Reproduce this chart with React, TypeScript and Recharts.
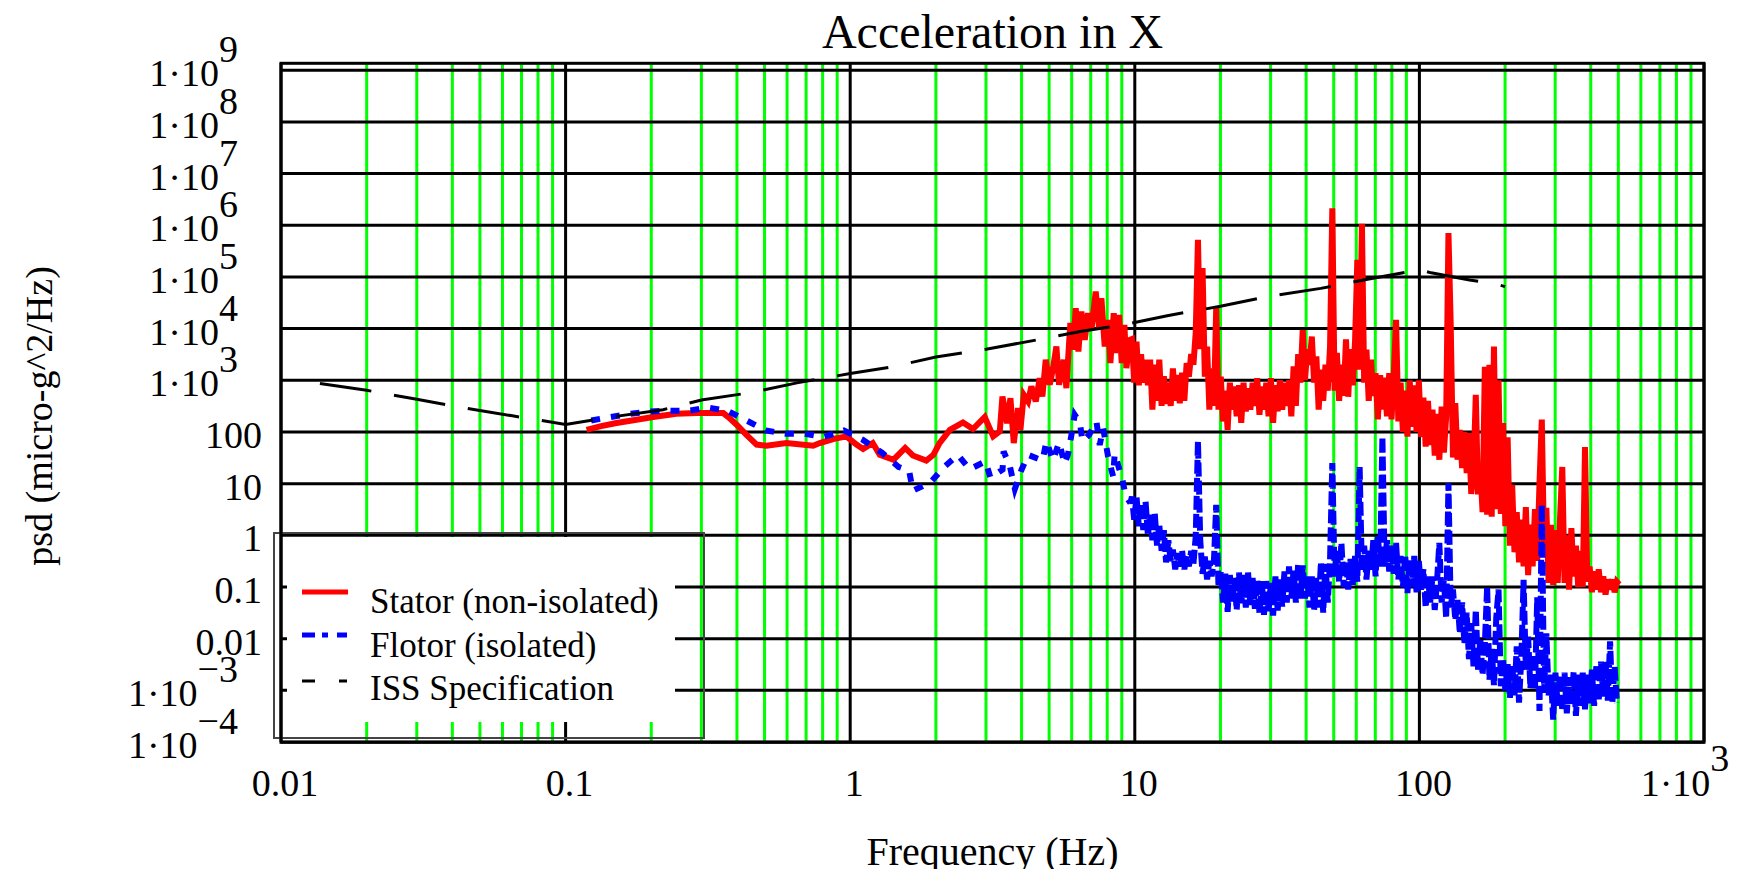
import React from "react";
import { CartesianGrid, Line, LineChart, XAxis, YAxis } from "recharts";

const FONT = '"Liberation Serif", "Times New Roman", serif';

// Stator (non-isolated), below 10 Hz: [frequency Hz, psd micro-g^2/Hz]
const statorLow: number[][] = [
  [0.1185, 110], [0.132, 128], [0.151, 149], [0.1775, 172], [0.203, 194], [0.245, 225], [0.288, 232], [0.358, 232],
  [0.373, 194], [0.399, 138], [0.432, 88], [0.469, 57], [0.508, 54], [0.597, 61], [0.741, 54], [0.782, 61],
  [0.871, 73], [0.97, 82], [1.052, 57], [1.11, 47], [1.2, 61], [1.27, 36], [1.42, 29], [1.56, 49], [1.66, 35],
  [1.85, 28], [1.96, 36], [2.06, 61], [2.24, 110], [2.49, 153], [2.7, 114], [2.97, 194], [3.18, 82],
  [3.354, 102], [3.427, 486], [3.558, 148], [3.656, 452], [3.756, 61], [3.89, 289], [3.964, 110], [4.072, 524],
  [4.217, 389], [4.332, 760], [4.487, 389], [4.634, 1100], [4.735, 486], [4.864, 2490], [5.024, 819], [5.161, 1720],
  [5.302, 4510], [5.418, 819], [5.627, 2490], [5.75, 705], [5.875, 5230], [5.939, 12800], [6.069, 3890], [6.201, 24900],
  [6.336, 3610], [6.492, 21400], [6.67, 6070], [6.852, 19900], [7.039, 9480], [7.29, 52200], [7.489, 10200], [7.631, 38800],
  [7.84, 4510], [8.054, 14800], [8.207, 2150], [8.432, 19900], [8.616, 3350], [8.805, 18500], [8.995, 2150], [9.192, 11800],
  [9.342, 1720], [9.596, 6070],
];

// Flotor (isolated), below 10 Hz
const flotorLow: number[][] = [
  [0.123, 167], [0.144, 194], [0.169, 225], [0.199, 250], [0.231, 257], [0.271, 257], [0.315, 298], [0.37, 257],
  [0.432, 167], [0.505, 107], [0.594, 92], [0.692, 92], [0.807, 80], [0.95, 107], [1.105, 71], [1.29, 40],
  [1.48, 21], [1.61, 18], [1.66, 7.3], [1.92, 10.7], [2.13, 20.6], [2.39, 36], [2.63, 19], [2.99, 27],
  [3.11, 13], [3.43, 18.6], [3.46, 42], [3.64, 21.5], [3.79, 7.9], [4.0, 18.6], [4.22, 36], [4.74, 28],
  [4.89, 66], [5.16, 28], [5.42, 63], [5.67, 24], [5.83, 38], [5.99, 88], [6.15, 215], [6.41, 153],
  [6.55, 66], [6.91, 88], [7.33, 160], [7.53, 56], [7.74, 119], [8.05, 34], [8.39, 13.8], [8.5, 38],
  [8.73, 23], [9.05, 11.9], [9.29, 5.7], [9.65, 4.2],
];

// frequency bins (Hz) of the dense part of both spectra, 10 Hz .. 500 Hz
const hfFreq = [
  9.77, 9.95, 10.14, 10.33, 10.52, 10.71, 10.91, 11.12, 11.32, 11.53, 11.75, 11.97, 12.19, 12.42, 12.65, 12.88,
  13.12, 13.37, 13.61, 13.87, 14.13, 14.39, 14.66, 14.93, 15.21, 15.49, 15.78, 16.07, 16.37, 16.67, 16.98, 17.3,
  17.62, 17.95, 18.28, 18.62, 18.97, 19.32, 19.68, 20.05, 20.42, 20.8, 21.19, 21.58, 21.98, 22.39, 22.8, 23.23,
  23.66, 24.1, 24.55, 25.0, 25.47, 25.94, 26.42, 26.92, 27.42, 27.93, 28.44, 28.97, 29.51, 30.06, 30.62, 31.19,
  31.77, 32.36, 32.96, 33.57, 34.2, 34.83, 35.48, 36.14, 36.81, 37.5, 38.19, 38.9, 39.63, 40.36, 41.11, 41.88,
  42.66, 43.45, 44.26, 45.08, 45.92, 46.77, 47.64, 48.53, 49.43, 50.35, 51.29, 52.24, 53.21, 54.2, 55.21, 56.23,
  57.28, 58.34, 59.43, 60.53, 61.66, 62.81, 63.97, 65.16, 66.37, 67.61, 68.87, 70.15, 71.45, 72.78, 74.13, 75.51,
  76.91, 78.34, 79.8, 81.28, 82.79, 84.33, 85.9, 87.5, 89.13, 90.78, 92.47, 94.19, 95.94, 97.72, 99.54, 101.4,
  103.3, 105.2, 107.2, 109.1, 111.2, 113.2, 115.3, 117.5, 119.7, 121.9, 124.2, 126.5, 128.8, 131.2, 133.7, 136.1,
  138.7, 141.3, 143.9, 146.6, 149.3, 152.1, 154.9, 157.8, 160.7, 163.7, 166.7, 169.8, 173.0, 176.2, 179.5, 182.8,
  186.2, 189.7, 193.2, 196.8, 200.4, 204.2, 208.0, 211.8, 215.8, 219.8, 223.9, 228.0, 232.3, 236.6, 241.0, 245.5,
  250.0, 254.7, 259.4, 264.2, 269.2, 274.2, 279.3, 284.5, 289.8, 295.1, 300.6, 306.2, 311.9, 317.7, 323.6, 329.6,
  335.7, 342.0, 348.3, 354.8, 361.4, 368.1, 375.0, 381.9, 389.0, 396.3, 403.6, 411.1, 418.8, 426.6, 434.5, 442.6,
  450.8, 459.2, 467.7, 476.4, 485.3, 494.3, 503.5,
];

// Stator psd on hfFreq
const statorHf = [
  6300, 900, 5600, 800, 3200, 900, 2500, 800, 2500, 270, 2000, 400, 2500, 320, 1200, 350,
  900, 320, 1700, 400, 1260, 360, 1400, 400, 2150, 1170, 3200, 2000, 8300, 525000, 4000, 148000,
  1170, 4500, 270, 1700, 320, 25000, 270, 1170, 160, 630, 110, 900, 270, 760, 200, 800,
  150, 900, 250, 700, 270, 900, 320, 1100, 215, 760, 270, 900, 200, 1100, 150, 800,
  250, 1000, 270, 900, 320, 1000, 200, 1850, 320, 3200, 900, 9300, 1000, 4000, 2000, 7000,
  900, 2900, 270, 1600, 400, 2000, 630, 4500, 2140000, 630, 3400, 400, 2000, 500, 6200, 480,
  4000, 800, 6000, 214000, 1600, 1070000, 900, 3900, 400, 2500, 500, 1380, 175, 1260, 270, 1120,
  200, 1380, 175, 1260, 14800, 160, 900, 100, 630, 81, 1000, 126, 800, 100, 1000, 80,
  460, 52, 400, 56, 270, 35, 224, 29, 310, 40, 200, 708000, 12600, 32, 363, 29,
  110, 20, 100, 16, 95, 6.3, 16, 525, 6.2, 20, 2.8, 1820, 2.5, 2000, 2.3, 4500,
  3.2, 1000, 2.6, 148, 1.5, 79, 0.63, 9.5, 0.47, 2.8, 0.3, 2, 0.25, 3.5, 0.17, 1.6,
  0.25, 3.2, 0.32, 10, 174, 0.5, 3.4, 0.12, 1.6, 0.11, 1.26, 0.12, 2, 21, 0.12, 1,
  0.089, 1.38, 0.16, 0.63, 0.1, 0.5, 0.1, 51, 0.126, 0.25, 0.079, 0.2, 0.089, 0.22, 0.079, 0.16,
  0.071, 0.14, 0.089, 0.14, 0.079, 0.126, 0.112,
];

// Flotor psd on hfFreq (ends near 494 Hz)
const flotorHf = [
  5.6, 2.0, 5.6, 1.5, 4.2, 1.26, 4.5, 1.0, 2.5, 0.8, 2.7, 0.63, 1.6, 0.5, 1.26, 0.3,
  0.8, 0.32, 0.53, 0.22, 0.45, 0.25, 0.5, 0.22, 0.4, 0.25, 0.5, 0.28, 0.95, 66, 0.8, 0.18,
  0.39, 0.14, 0.32, 0.16, 0.32, 3.9, 0.1, 0.2, 0.05, 0.18, 0.033, 0.17, 0.05, 0.15, 0.036, 0.19,
  0.045, 0.17, 0.04, 0.19, 0.045, 0.15, 0.038, 0.14, 0.031, 0.13, 0.029, 0.13, 0.034, 0.12, 0.028, 0.16,
  0.035, 0.14, 0.042, 0.2, 0.05, 0.25, 0.06, 0.22, 0.05, 0.28, 0.06, 0.26, 0.06, 0.16, 0.04, 0.16,
  0.036, 0.15, 0.04, 0.3, 0.032, 0.28, 0.05, 0.34, 25, 0.16, 0.5, 0.126, 0.71, 0.1, 0.32, 0.089,
  0.35, 0.11, 0.4, 0.126, 21, 0.2, 0.63, 0.14, 0.5, 0.2, 0.8, 0.16, 1.0, 0.25, 81, 0.25,
  0.8, 0.2, 0.63, 0.18, 0.71, 0.14, 0.4, 0.1, 0.42, 0.076, 0.35, 0.1, 0.4, 0.079, 0.32, 0.089,
  0.22, 0.04, 0.16, 0.05, 0.16, 0.036, 0.126, 0.71, 0.05, 0.14, 0.025, 10.2, 0.04, 0.089, 0.023, 0.056,
  0.0126, 0.05, 0.0079, 0.032, 0.004, 0.02, 0.0029, 0.036, 0.0025, 0.01, 0.002, 0.0079, 0.102, 0.0016, 0.0063, 0.00126,
  0.025, 0.089, 0.0012, 0.004, 0.001, 0.0032, 0.00072, 0.0032, 0.0008, 0.0071, 0.00058, 0.004, 0.138, 0.0025, 0.011, 0.0011,
  0.005, 0.001, 0.063, 0.0004, 3.9, 0.00089, 0.0126, 0.0008, 0.002, 0.00027, 0.0022, 0.0005, 0.002, 0.0004, 0.0022, 0.00036,
  0.0018, 0.0005, 0.0023, 0.00032, 0.002, 0.0005, 0.0022, 0.00043, 0.002, 0.00056, 0.0025, 0.0005, 0.0032, 0.00063, 0.0036, 0.00076,
  0.0036, 0.00063, 0.0089, 0.00056, 0.0029, 0.00057,
];

// ISS Specification
const issPoints: number[][] = [
  [0.0137, 870], [0.02, 640], [0.03, 430], [0.045, 285], [0.065, 205], [0.1, 140], [0.15, 200], [0.22, 270],
  [0.3, 415], [0.45, 580], [0.65, 890], [1, 1350], [1.4, 1820], [2, 2820], [3, 3980], [4.5, 6000],
  [6.5, 8900], [9, 11700], [13, 17800], [20, 27000], [30, 42700], [45, 60000], [65, 89000], [100, 138000],
  [110, 120000], [150, 87000], [180, 76000], [200, 65000],
];

const xTicks = [0.01, 0.1, 1, 10, 100, 1000];
const xTickLabels = [["0.01", ""], ["0.1", ""], ["1", ""], ["10", ""], ["100", ""], ["1·10", "3"]];
const xMinorLines = [
  0.02, 0.03, 0.04, 0.05, 0.06, 0.07, 0.08, 0.09,
  0.2, 0.3, 0.4, 0.5, 0.6, 0.7, 0.8, 0.9,
  2, 3, 4, 5, 6, 7, 8, 9,
  20, 30, 40, 50, 60, 70, 80, 90,
  200, 300, 400, 500, 600, 700, 800, 900,
];
const yTicks = [1e-4, 1e-3, 0.01, 0.1, 1, 10, 100, 1e3, 1e4, 1e5, 1e6, 1e7, 1e8, 1e9];
const yTickLabels = [
  ["1·10", "−4"], ["1·10", "−3"], ["0.01", ""], ["0.1", ""], ["1", ""], ["10", ""], ["100", ""],
  ["1·10", "3"], ["1·10", "4"], ["1·10", "5"], ["1·10", "6"], ["1·10", "7"], ["1·10", "8"], ["1·10", "9"],
];

const toData = (pts: number[][]) => pts.map(([f, v]) => ({ f, v }));
const onGrid = (vals: number[]) => vals.map((v, i) => ({ f: hfFreq[i], v }));
const statorData = [...toData(statorLow), ...onGrid(statorHf)];
// the flotor trace is drawn in two runs: sparse dots below 10 Hz, tighter dots in the dense part
const flotorLowData = toData(flotorLow);
const flotorHfData = [flotorLowData[flotorLowData.length - 1], ...onGrid(flotorHf)];
const issData = toData(issPoints);

function XTick(props: any) {
  const { x, y, payload, index } = props;
  let i = xTicks.indexOf(payload.value);
  if (i < 0) i = index;
  const [base, exp] = xTickLabels[i];
  if (!exp) {
    return (
      <text x={x + 4} y={y + 54} textAnchor="middle" fontSize={38} fontFamily={FONT} fill="#000">
        {base}
      </text>
    );
  }
  return (
    <text x={x - 19} y={y + 54} textAnchor="middle" fontSize={38} fontFamily={FONT} fill="#000">
      {base}
      <tspan dy={-25}>{exp}</tspan>
    </text>
  );
}

function YTick(props: any) {
  const { x, y, payload, index } = props;
  let i = yTicks.indexOf(payload.value);
  if (i < 0) i = index;
  const [base, exp] = yTickLabels[i];
  if (!exp) {
    return (
      <text x={x - 19} y={y + 16} textAnchor="end" fontSize={38} fontFamily={FONT} fill="#000">
        {base}
      </text>
    );
  }
  return (
    <text x={x - 43} y={y + 16} textAnchor="end" fontSize={38} fontFamily={FONT} fill="#000">
      {base}
      <tspan dy={-24}>{exp}</tspan>
    </text>
  );
}

export default function App() {
  return (
    <div style={{ position: "relative", width: 1733, height: 861 }}>
      <LineChart width={1733} height={861} margin={{ top: 55, right: 37, bottom: 37, left: 0 }}>
        <CartesianGrid horizontal={false} verticalValues={xMinorLines} stroke="#00ff00" strokeWidth={3} />
        <CartesianGrid verticalValues={xTicks} horizontalValues={yTicks} stroke="#000000" strokeWidth={3} />
        <XAxis
          type="number"
          dataKey="f"
          scale="log"
          domain={[0.01, 1000]}
          ticks={xTicks}
          interval={0}
          allowDataOverflow
          axisLine={false}
          tickLine={false}
          tickSize={0}
          tickMargin={0}
          height={90}
          tick={(p: any) => <XTick {...p} />}
        />
        <YAxis
          type="number"
          dataKey="v"
          scale="log"
          domain={[1e-4, 1.38e9]}
          ticks={yTicks}
          interval={0}
          allowDataOverflow
          axisLine={false}
          tickLine={false}
          tickSize={0}
          tickMargin={0}
          width={273}
          tick={(p: any) => <YTick {...p} />}
        />
        <Line data={statorData} dataKey="v" type="linear" stroke="#ff0000" strokeWidth={6} dot={false} isAnimationActive={false} />
        <Line data={flotorLowData} dataKey="v" type="linear" stroke="#0000ff" strokeWidth={6} strokeDasharray="9 11" dot={false} isAnimationActive={false} />
        <Line data={flotorHfData} dataKey="v" type="linear" stroke="#0000ff" strokeWidth={6} strokeDasharray="14 4" dot={false} isAnimationActive={false} />
        <Line data={issData} dataKey="v" type="linear" stroke="#000000" strokeWidth={3} strokeDasharray="52 23" dot={false} isAnimationActive={false} />
      </LineChart>
      <svg width={1733} height={869} style={{ position: "absolute", left: 0, top: 0, overflow: "visible" }}>
        <text x={984.5} y={40} textAnchor="middle" fontSize={48} fontFamily={FONT} fill="#000">
          Acceleration in X
        </text>
        <text x={984.5} y={857} textAnchor="middle" fontSize={40} fontFamily={FONT} fill="#000">
          Frequency (Hz)
        </text>
        <text transform="translate(44,408) rotate(-90)" textAnchor="middle" fontSize={38} fontFamily={FONT} fill="#000">
          psd (micro-g^2/Hz)
        </text>
        {/* legend */}
        <rect x={279} y={529} width={388} height={185} fill="#ffffff" />
        <rect x={266} y={525} width={430} height={205} fill="none" stroke="#444" strokeWidth={2} />
        <line x1={294} x2={340} y1={584} y2={584} stroke="#ff0000" strokeWidth={5} />
        <line x1={294} x2={340} y1={627} y2={627} stroke="#0000ff" strokeWidth={5} strokeDasharray="13 7 6 9 10" />
        <line x1={294} x2={339} y1={673} y2={673} stroke="#000" strokeWidth={3} strokeDasharray="13 24 8" />
        <text x={362} y={605} fontSize={35} fontFamily={FONT} fill="#000">Stator (non-isolated)</text>
        <text x={362} y={649} fontSize={35} fontFamily={FONT} fill="#000">Flotor (isolated)</text>
        <text x={362} y={692} fontSize={35} fontFamily={FONT} fill="#000">ISS Specification</text>
        {/* plot frame */}
        <rect x={273} y={55.3} width={1423} height={679} fill="none" stroke="#000" strokeWidth={3} />
      </svg>
    </div>
  );
}
